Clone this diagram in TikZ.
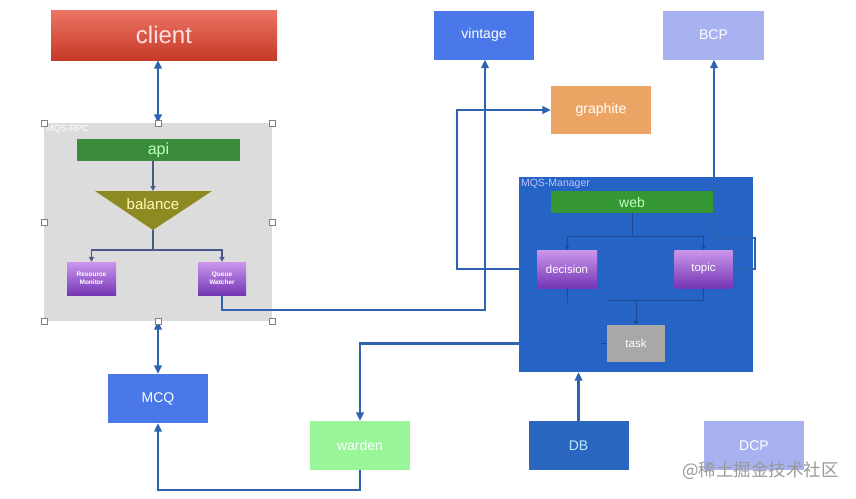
\documentclass[tikz,border=0pt]{standalone}
\usepackage{fontspec}
\setmainfont{Liberation Sans}
\newfontfamily\cjk{Noto Sans CJK SC}
\usepackage{tikz}
\usetikzlibrary{calc,arrows.meta,backgrounds}
\definecolor{linkblue}{HTML}{2F62B0}
\definecolor{innerline}{HTML}{4A5888}
\definecolor{mgrline}{HTML}{1D4A90}
\definecolor{rpcgray}{HTML}{DCDCDC}
\definecolor{apigreen}{HTML}{3A8C3A}
\definecolor{balanceolive}{HTML}{8C8A20}
\definecolor{plainblue}{HTML}{4A78E8}
\definecolor{paleblue}{HTML}{A8B2F0}
\definecolor{graphiteorange}{HTML}{EBA464}
\definecolor{mgrblue}{HTML}{2563C4}
\definecolor{dbblue}{HTML}{2A66C0}
\definecolor{taskgray}{HTML}{A8A8A8}
\definecolor{wardengreen}{HTML}{98F598}
\definecolor{purpletop}{HTML}{CC96EC}
\definecolor{purplebottom}{HTML}{7436B4}
\definecolor{clienttop}{HTML}{EC7464}
\definecolor{clientbottom}{HTML}{C63A28}
\newcommand{\linkwidth}{2.5pt}
\newcommand{\tip}{Triangle[length=8.5pt,width=7.5pt]}

\begin{document}
\begin{tikzpicture}[x=1pt,y=-1pt,
  box/.style={minimum width=100, minimum height=49, inner sep=0, text=white, font=\fontsize{14}{16}\selectfont},
  purplebox/.style={inner sep=0, text=white, top color=purpletop, bottom color=purplebottom},
  link/.style={draw=linkblue, line width=\linkwidth, -{\tip}},
  inner/.style={draw=innerline, line width=1.3pt, -{Triangle[length=5pt,width=5pt]}},
  handle/.style={draw=gray, fill=white, line width=0.6pt}]
\useasboundingbox (0,0) rectangle (856,498);
\begin{scope}[on background layer]
\fill[white] (0,0) rectangle (856,498);
\end{scope}
% top row
\node[box, minimum width=226, minimum height=50, top color=clienttop, bottom color=clientbottom, text={red!12!white}, font=\fontsize{24}{26}\selectfont] (client) at (164,35) {client};
\node[box, fill=plainblue] (vintage) at (484,35) {vintage};
\node[box, fill=paleblue, minimum width=101] (bcp) at (713.5,35) {BCP};
\node[box, fill=graphiteorange, minimum height=48] (graphite) at (601,110) {graphite};
% MQS-RPC
\node[fill=rpcgray, minimum width=228, minimum height=198, inner sep=0] (rpc) at (158,222) {};
\node[anchor=north west, text=white, font=\fontsize{9}{10}\selectfont, inner sep=2] at (rpc.north west) {MQS-RPC};
\node[fill=apigreen, minimum width=163, minimum height=22, inner sep=0, text={green!25!white}, font=\fontsize{16}{18}\selectfont] (api) at (158.5,150) {api};
\coordinate (balancetop) at (153,191);
\coordinate (balancetip) at (153,230);
\fill[balanceolive] (95,191) -- (212,191) -- (balancetip) -- cycle;
\node[text={yellow!25!white}, font=\fontsize{15}{17}\selectfont, inner sep=0] (balance) at (153,204) {balance};
\node[purplebox, minimum width=49, minimum height=33, font=\bfseries\fontsize{6.5}{7.5}\selectfont, align=center] (resmon) at (91.5,278.5) {Resource\\Monitor};
\node[purplebox, minimum width=48, minimum height=33, font=\bfseries\fontsize{6.5}{7.5}\selectfont, align=center] (qwatch) at (222,278.5) {Queue\\Watcher};
\coordinate (split) at (153,250);
\draw[inner] (api.south -| balancetop) -- (balancetop);
\draw[innerline, line width=1.3pt] (balancetip) -- (split);
\draw[inner] (split) -| (resmon.north);
\draw[inner] (split) -| (qwatch.north);
% MQS-Manager
\node[fill=mgrblue, minimum width=234, minimum height=195, inner sep=0] (manager) at (636,274.5) {};
\node[anchor=north west, text={blue!25!white}, font=\fontsize{10.5}{12}\selectfont, inner sep=2] at (manager.north west) {MQS-Manager};
\node[fill=apigreen!90!green, minimum width=162, minimum height=22, inner sep=0, text={green!25!white}, font=\fontsize{14}{16}\selectfont] (web) at (632,202) {web};
\node[purplebox, minimum width=60, minimum height=38, font=\fontsize{11.5}{13}\selectfont] (decision) at (567,269) {decision};
\node[purplebox, minimum width=58, minimum height=38, font=\fontsize{11.5}{13}\selectfont] (topic) at (703.5,269) {topic};
\node[box, fill=taskgray, minimum width=58, minimum height=37, font=\fontsize{11.5}{13}\selectfont] (task) at (636,343.5) {task};
\coordinate (websplit) at (632,236);
\coordinate (taskjoin) at (636,300);
\draw[mgrline, line width=1pt] (web.south) -- (websplit);
\draw[mgrline, line width=1pt, -{Triangle[length=4pt,width=4pt]}] (websplit) -| (decision.north);
\draw[mgrline, line width=1pt, -{Triangle[length=4pt,width=4pt]}] (websplit) -| (topic.north);
\draw[mgrline, line width=1pt] (decision.south) -- ++(0,15);
\draw[mgrline, line width=1pt] (topic.south) |- (608,300);
\draw[mgrline, line width=1pt, -{Triangle[length=4pt,width=4pt]}] (taskjoin) -- (task.north);
\draw[mgrline, line width=1.5pt] (task.west) -- ++(-6,0);
% bottom row
\node[box, fill=plainblue] (mcq) at (158,398.5) {MCQ};
\node[box, fill=wardengreen] (warden) at (360,445.5) {warden};
\node[box, fill=dbblue, text={cyan!25!white}] (db) at (578.5,445.5) {DB};
\node[box, fill=paleblue] (dcp) at (754,445.5) {DCP};
% connectors
\draw[link, {\tip}-{\tip}] (client.south -| rpc.north) -- (rpc.north);
\draw[link, {\tip}-{\tip}] (rpc.south) -- (mcq.north);
\draw[link] (qwatch.south) |- (485,310) -- (485,0 |- vintage.south);
\draw[link] (topic.east) -- (755,269) -- (755,238) -- (714,238) -- (714,0 |- bcp.south);
\draw[link] (warden.south) -- ++(0,20) -| (mcq.south);
\draw[link] (db.north) -- (db.north |- manager.south);
\begin{scope}[on background layer]
\draw[link] (decision.west) -- (457,269) |- (graphite.west);
\draw[link] (task.west) -| (warden.north);
\end{scope}
% selection handles
\foreach \a in {north west, north, north east, west, east, south west, south, south east}
  \draw[handle] (rpc.\a) +(-3,-3) rectangle +(3,3);
\node[anchor=east, text=gray!80, font=\cjk\fontsize{17.5}{19}\selectfont, inner sep=0] (mark) at (839,471) {@稀土掘金技术社区};
\end{tikzpicture}
\end{document}
